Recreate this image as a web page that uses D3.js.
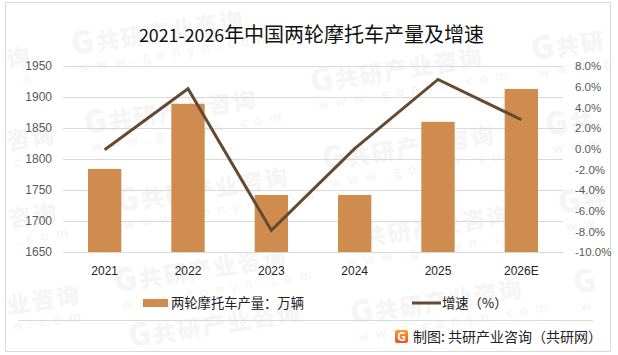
<!DOCTYPE html>
<html>
<head>
<meta charset="utf-8">
<script src="https://cdn.jsdelivr.net/npm/d3@7/dist/d3.min.js"></script>
<style>
  html, body { margin: 0; padding: 0; background: #fff; }
  svg { display: block; font-family: "Noto Sans CJK SC", "Noto Sans", sans-serif; }
</style>
</head>
<body>
<div id="chart"></div>
<script>
let years = ['2021', '2022', '2023', '2024', '2025', '2026E'];
let output = [1784, 1889, 1742, 1742, 1860, 1913];
let growth = [-0.1, 5.8, -7.9, 0.0, 6.7, 2.8];
let outputTicks = [1650, 1700, 1750, 1800, 1850, 1900, 1950];
let growthTicks = [-10, -8, -6, -4, -2, 0, 2, 4, 6, 8];

// watermark pieces: x, y, brand part, url part (the edge ones are only partly visible)
let stamps = [
  [73, 55, 'G共研产业咨询', 'www.gonyn.com'],
  [86, 134, 'G共研产业咨询', 'www.gonyn.com'],
  [118, 212, 'G共研产业咨询', 'www.gonyn.com'],
  [116, 292, 'G共研产业咨询', 'www.gonyn.com'],
  [130, 347, 'G共研产业咨询', ''],
  [312, 92, 'G共研产业咨询', 'www.gonyn.com'],
  [324, 170, 'G共研产业咨询', 'www.gonyn.com'],
  [340, 250, 'G共研产业咨询', 'www.gonyn.com'],
  [352, 324, 'G共研产业咨询', 'www.gonyn.com'],
  [533, 60, 'G共研', 'www.g'],
  [547, 136, 'G共', 'www'],
  [560, 214, 'G共', 'ww'],
  [575, 294, 'G', 'w'],
  [8, 68, '询', '.c'],
  [8, 150, '咨询', 'c'],
  [10, 228, '咨询', '.com'],
  [8, 314, '业咨询', 'n.com']
];

let width = 618, height = 355;
let margin = {top: 66, right: 55, bottom: 103, left: 63};
let plotWidth = width - margin.left - margin.right;
let plotHeight = height - margin.top - margin.bottom;

let svg = d3.select('#chart').append('svg')
  .attr('width', width)
  .attr('height', height);

let defs = svg.append('defs');
let logoFill = defs.append('linearGradient')
  .attr('id', 'logo-fill')
  .attr('x1', 0).attr('y1', 0).attr('x2', 0).attr('y2', 1);
logoFill.append('stop').attr('offset', '0%').attr('stop-color', '#f7a12c');
logoFill.append('stop').attr('offset', '100%').attr('stop-color', '#ee4f23');

// watermarks go under everything
let marks = svg.append('g').selectAll('g')
  .data(stamps)
  .enter()
  .append('g')
  .attr('transform', (d) => 'translate(' + d[0] + ',' + d[1] + ') rotate(-9)');

let brand = marks.append('text')
  .attr('font-weight', 900)
  .attr('font-size', 23)
  .attr('letter-spacing', 2)
  .attr('fill', '#f5f5f5');

brand.filter((d) => d[2][0] === 'G').append('tspan')
  .attr('font-size', 31)
  .text('G');

brand.append('tspan')
  .text((d) => d[2].replace('G', ''));

marks.append('text')
  .attr('x', 4)
  .attr('y', 18)
  .attr('font-size', 13)
  .attr('letter-spacing', 7.5)
  .attr('fill', '#f3f3f3')
  .text((d) => d[3]);

// frame
svg.append('rect')
  .attr('x', 5.5)
  .attr('y', 2.5)
  .attr('width', 605)
  .attr('height', 349)
  .attr('fill', 'none')
  .attr('stroke', '#d9d9d9');

let xScale = d3.scaleBand()
  .domain(years)
  .range([0, plotWidth])
  .paddingInner(0.6)
  .paddingOuter(0.3);

let yLeft = d3.scaleLinear().domain([1650, 1950]).range([plotHeight, 0]);
let yRight = d3.scaleLinear().domain([-10, 8]).range([plotHeight, 0]);

let plot = svg.append('g')
  .attr('transform', 'translate(' + margin.left + ',' + margin.top + ')');

let leftAxis = plot.append('g')
  .call(d3.axisLeft(yLeft).tickValues(outputTicks).tickSize(-plotWidth).tickPadding(11).tickFormat(d3.format('d')));
leftAxis.select('.domain').remove();
leftAxis.selectAll('line').attr('stroke', '#d9d9d9');
leftAxis.selectAll('text')
  .attr('fill', '#595959')
  .style('font-size', '12px');

let rightAxis = plot.append('g')
  .attr('transform', 'translate(' + plotWidth + ',0)')
  .call(d3.axisRight(yRight).tickValues(growthTicks).tickSize(0).tickPadding(12).tickFormat((d) => d.toFixed(1) + '%'));
rightAxis.select('.domain').remove();
rightAxis.selectAll('text')
  .attr('fill', '#595959')
  .style('font-size', '11.5px');

plot.selectAll('.bar')
  .data(output)
  .enter()
  .append('rect')
  .attr('class', 'bar')
  .attr('fill', '#d08b4e')
  .attr('x', (d, i) => xScale(years[i]))
  .attr('y', (d) => yLeft(d))
  .attr('width', xScale.bandwidth())
  .attr('height', (d) => plotHeight - yLeft(d));

let growthLine = d3.line()
  .x((d, i) => xScale(years[i]) + xScale.bandwidth() / 2)
  .y((d) => yRight(d));

plot.append('path')
  .datum(growth)
  .attr('d', growthLine)
  .attr('fill', 'none')
  .attr('stroke', '#644a33')
  .attr('stroke-width', 3)
  .attr('stroke-linejoin', 'miter');

let bottomAxis = plot.append('g')
  .attr('transform', 'translate(0,' + plotHeight + ')')
  .call(d3.axisBottom(xScale).tickSize(0).tickPadding(14));
bottomAxis.select('.domain').remove();
bottomAxis.selectAll('text')
  .attr('fill', '#222')
  .style('font-size', '12px');

// title, digits are narrower than the CJK part
let title = svg.append('text')
  .attr('x', 139)
  .attr('y', 42)
  .attr('fill', '#111');
title.append('tspan').attr('font-size', 17.8).text('2021-2026');
title.append('tspan').attr('font-size', 20).text('年中国两轮摩托车产量及增速');

// legend
svg.append('rect')
  .attr('x', 143).attr('y', 299)
  .attr('width', 25).attr('height', 8)
  .attr('fill', '#d08b4e');
svg.append('text')
  .attr('x', 171).attr('y', 308)
  .attr('font-size', 13.3)
  .attr('fill', '#222')
  .text('两轮摩托车产量：万辆');
svg.append('line')
  .attr('x1', 412).attr('x2', 441)
  .attr('y1', 303).attr('y2', 303)
  .attr('stroke', '#644a33')
  .attr('stroke-width', 3);
svg.append('text')
  .attr('x', 442).attr('y', 308)
  .attr('font-size', 13.3)
  .attr('fill', '#222')
  .text('增速（%）');

// footer
svg.append('line')
  .attr('x1', 18).attr('x2', 593)
  .attr('y1', 320.5).attr('y2', 320.5)
  .attr('stroke', '#d9d9d9');
svg.append('rect')
  .attr('x', 395).attr('y', 330)
  .attr('width', 13).attr('height', 13)
  .attr('rx', 2)
  .attr('fill', 'url(#logo-fill)');
svg.append('text')
  .attr('x', 401.5).attr('y', 341)
  .attr('text-anchor', 'middle')
  .attr('font-size', 12)
  .attr('font-weight', 700)
  .attr('fill', '#fff')
  .text('G');
svg.append('text')
  .attr('x', 413).attr('y', 342)
  .attr('font-size', 14)
  .attr('fill', '#222')
  .text('制图: 共研产业咨询（共研网）');
</script>
</body>
</html>
